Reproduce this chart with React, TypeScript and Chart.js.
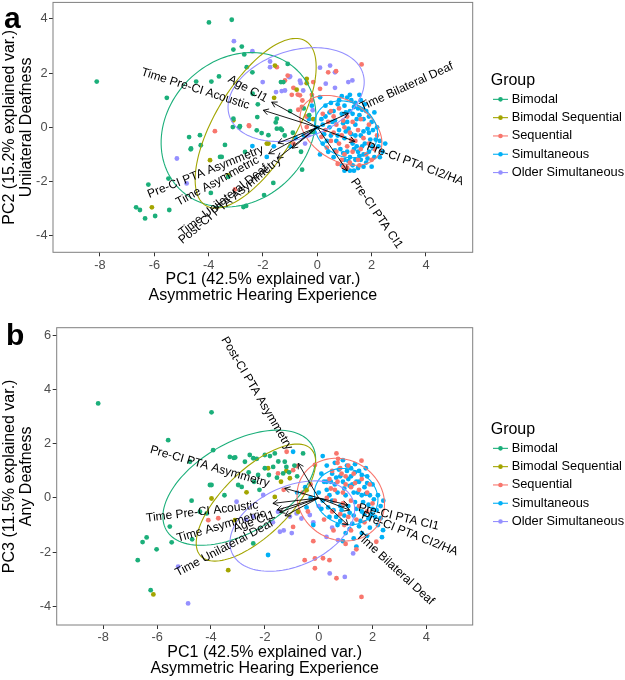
import React, { useEffect, useRef } from 'react';
import { Chart, registerables } from 'chart.js';

Chart.register(...registerables);

const FONT = '"Liberation Sans", Arial, Helvetica, sans-serif';

// ---------- shared ----------
const groups = ['Bimodal', 'Bimodal Sequential', 'Sequential', 'Simultaneous', 'Older Simultaneous'];
const groupColors = ['#1BAF7A', '#A3A500', '#F8766D', '#00B0F6', '#9590FF'];
const xTicks = [-8, -6, -4, -2, 0, 2, 4];
const xTitle = ['PC1 (42.5% explained var.)', 'Asymmetric Hearing Experience'];

// ---------- panel a : PC1 vs PC2 ----------
const yTicksA = [-4, -2, 0, 2, 4];
const yTitleA = ['PC2 (15.2% explained var.)', 'Unilateral Deafness'];

const bimodalA: [number, number][] = [
  [-8.12, 1.69], [-3.99, 3.87], [-3.15, 3.97], [-2.78, 2.98], [-3.09, 2.87], [-2.69, 2.69], [-1.09, 2.34],
  [-2.6, 2.22], [-2.39, 2.03], [-3.62, 1.88], [-3.9, 1.69], [-4.46, 1.69], [-5.54, 1.09], [-1.34, 1.67],
  [-1.25, 1.67], [-2.38, 1.24], [-2.19, 0.85], [-2.21, 0.38], [-3.09, 0.32], [-3.11, 0.01], [-2.87, -0.01],
  [-2.05, -0.21], [-1.8, -0.29], [-1.49, -0.05], [-1.49, 0.32], [-1.3, -0.1], [-4.72, -0.36], [-4.66, -0.81],
  [-4.32, -0.29], [-4.29, -0.66], [-6.22, -2.11], [-5.48, -1.89], [-6.67, -2.95], [-6.53, -3.05],
  [-6.34, -3.36], [-5.97, -3.27], [-5.45, -3.05], [-3.58, -1.09], [-3.92, -2.42], [-2.62, -2.9],
  [-2.72, -2.94], [-2.66, -0.91], [-1.96, -2.5], [-1.62, -2.05], [-0.56, -1.56], [-4.65, -0.78],
  [-3.52, -1.09], [-3.28, -1.83], [-2.85, 0.04], [-2.23, -0.11], [-1.53, 0.18], [-1.35, -0.05],
  [-0.9, -0.2], [-0.5, 0.7], [-0.3, 0.45], [-1.0, 0.6], [-3.4, -0.65], [-0.6, -0.9], [-0.21, -0.17],
  [-1.2, -0.3],
];
const bimodalSeqA: [number, number][] = [
  [-1.56, 2.28], [-0.76, 1.39], [-0.39, 1.63], [-1.59, 1.09], [-3.95, -1.21], [-6.09, -2.95], [-1.86, -0.6],
  [-3.09, 0.26], [-1.8, -0.6], [-3.28, -1.77], [-0.39, 1.79], [-0.15, 0.3],
];
const sequentialA: [number, number][] = [
  [-1.49, 2.22], [-1.19, 1.73], [-1.09, 1.91], [-0.15, 1.67], [0.4, 2.03], [-0.94, 1.2], [-0.72, 1.21],
  [-0.55, 0.99], [-2.51, 0.05], [-3.03, -2.29], [-3.77, -0.14], [-2.52, 0.07], [1.63, 2.32], [0.69, 2.07],
  [0.1, 1.42], [-0.88, 1.46], [-0.64, 1.18], [-0.21, 0.99], [-0.7, 0.65], [-0.39, 0.01], [-0.88, -0.6],
  [0.96, -1.46], [-0.57, 0.75], [-0.4, 0.4], [-0.2, 1.2],
  [0.5, 0.6], [0.8, 0.7], [1.1, 0.4], [0.4, 0.2], [0.7, 0.1], [1.0, 0.0], [1.3, 0.2], [0.6, -0.2],
  [0.9, -0.3], [1.2, -0.2], [1.5, -0.1], [0.5, -0.5], [0.8, -0.6], [1.1, -0.7], [1.4, -0.5], [1.7, -0.4],
  [0.7, -0.9], [1.0, -1.0], [1.3, -0.9], [1.6, -0.8], [1.9, -0.6], [0.9, -1.2], [1.2, -1.3], [1.5, -1.2],
  [1.8, -1.0], [2.1, -0.8], [0.3, -0.1], [0.2, 0.5], [1.6, 0.3], [1.9, 0.1], [2.2, -0.3], [1.1, -1.5],
  [0.6, 0.4], [0.95, 0.25], [1.25, -0.45], [0.35, -0.75], [1.55, -1.4], [2.0, -1.2], [0.15, -0.35],
  [0.75, -1.35],
];
const simultaneousA: [number, number][] = [
  [0.0, 0.0], [0.2, 0.1], [-0.1, -0.2], [0.3, 0.4], [0.5, 0.9], [0.8, 1.0], [1.1, 1.1], [1.4, 0.9],
  [1.6, 1.0], [1.5, 0.7], [1.8, 0.6], [1.2, 0.6], [0.9, 0.5], [0.6, 0.6], [0.3, 0.8], [1.0, 0.8],
  [1.3, 0.5], [1.7, 0.3], [2.0, 0.2], [2.2, 0.0], [1.9, -0.2], [2.3, -0.5], [2.4, -0.9], [2.1, -1.1],
  [1.8, -1.3], [1.5, -1.5], [1.2, -1.6], [0.9, -1.4], [0.6, -1.1], [0.4, -0.9], [0.2, -0.6], [0.5, -0.3],
  [0.8, -0.1], [1.1, 0.2], [1.4, 0.1], [1.6, -0.3], [1.3, -0.6], [1.0, -0.4], [0.7, -0.5], [1.5, -0.9],
  [1.2, -1.1], [1.7, -1.0], [2.0, -0.7], [1.9, -0.9], [1.4, -1.2], [1.1, -0.9], [0.85, -0.8], [1.6, -1.2],
  [1.3, -1.4], [1.0, -1.2], [1.45, -0.7], [1.75, -0.6], [1.25, -0.25], [1.55, 0.45], [1.35, 0.75],
  [1.65, 0.65], [0.45, 0.0], [0.65, 0.25], [0.95, 0.15], [2.15, -0.45], [1.85, -0.05], [0.25, -0.25],
  [-0.3, 0.3], [-0.5, -0.3], [-0.2, 0.8], [-1.86, -1.09], [-2.39, -0.69], [-0.8, -0.4], [-1.0, -0.7],
  [0.1, -1.0], [2.5, -0.6], [1.0, -1.6], [1.25, 1.0], [0.75, 0.85], [1.15, -0.05], [-1.6, -0.7],
  [0.1, 1.11], [1.35, -0.8], [1.65, -0.7], [1.95, -0.45], [2.25, -0.7], [1.55, -1.05], [1.85, -1.15],
  [1.15, -1.25], [0.95, -0.95], [1.7, -0.15], [2.05, -0.1], [1.45, 0.3], [1.75, 0.85], [1.05, 0.55],
  [0.55, 0.2], [0.35, -0.5], [0.75, -0.3], [1.05, -0.15], [1.4, -0.3], [2.3, -1.1], [2.0, -1.45],
  [1.7, -1.45], [1.35, -1.6], [0.65, -0.85], [0.15, 0.3], [0.45, 0.55], [1.9, 0.4], [2.1, 0.55],
  [1.2, 1.2], [0.9, 1.15], [1.55, 1.2],
];
const olderSimA: [number, number][] = [
  [-3.07, 3.18], [-2.39, 2.81], [-1.74, 2.43], [-1.74, 2.22], [-2.01, 1.67], [-1.52, 1.3], [-1.31, 1.34],
  [-1.03, 1.85], [-0.61, 1.63], [0.31, 1.61], [-0.52, 1.36], [-5.17, -1.15], [-4.81, -2.07], [0.47, 2.28],
  [0.65, 2.03], [0.65, 1.46], [1.14, 1.67], [1.29, 1.73], [-1.0, 1.88], [-0.64, 1.72], [-1.19, 1.36],
  [-0.33, -0.29], [-0.17, 0.63], [-0.45, -0.6], [0.1, 2.2],
];

const varNamesA = ['Age CI1', 'Time Pre-CI Acoustic', 'Time Bilateral Deaf', 'Pre-CI PTA CI2/HA', 'Pre-CI PTA CI1',
  'Pre-CI PTA Asymmetry', 'Time Asymmetric', 'Time Unilateral Deaf', 'Post-CI PTA Asymmetry'];
const varXA = [-1.68, -1.99, 1.14, 1.38, 1.1, -1.45, -1.79, -1.46, -0.92];
const varYA = [0.93, 0.63, 0.52, -0.52, -1.6, -0.58, -0.97, -1.14, -0.77];

// ellipse per group (order as groups): centre, semi-axes, rotation (deg)
const ellCxA = [-2.9, -2.27, 0.87, 1.06, -0.78];
const ellCyA = [-0.09, 0.15, -0.11, -0.07, 1.21];
const ellMajA = [3.08, 3.55, 1.65, 1.21, 2.58];
const ellMinA = [2.6, 1.47, 1.1, 0.99, 1.62];
const ellRotA = [45, 58.8, -33, -30, 17.7];

// ---------- panel b : PC1 vs PC3 ----------
const yTicksB = [-4, -2, 0, 2, 4, 6];
const yTitleB = ['PC3 (11.5% explained var.)', 'Any Deafness'];

const bimodalB: [number, number][] = [
  [-8.19, 3.5], [-3.98, 3.17], [-5.59, 2.14], [-3.92, 1.77], [-3.3, 1.52], [-3.15, 1.48], [-2.56, 1.59],
  [-2.3, 1.45], [-2.0, 1.59], [-1.81, 1.55], [-1.63, 1.65], [-1.5, 1.35], [-1.26, 1.34], [-0.58, 1.65],
  [-4.78, 1.34], [-4.04, 0.48], [-4.72, -0.1], [-4.41, -0.51], [-5.53, -1.06], [-5.46, -1.64],
  [-6.02, -1.9], [-6.39, -1.46], [-6.54, -1.63], [-6.72, -2.3], [-6.24, -3.41], [-4.7, -1.53],
  [-2.43, -1.68], [-4.16, -0.57], [-2.74, 1.34], [-2.43, 1.47], [-1.69, 1.15], [-2.0, 1.1], [-2.25, 0.85],
  [-2.99, 0.48], [-3.98, 0.48], [-2.86, 0.41], [-1.32, 0.91], [-1.1, 0.95], [-1.2, 1.15], [-2.6, 0.95],
  [-3.1, 1.5], [-1.85, 0.85], [-2.4, 0.6], [-1.55, 0.75], [-0.9, 1.2], [-0.8, 0.8], [-3.5, 0.1], [-2.2, 0.3],
];
const bimodalSeqB: [number, number][] = [
  [-3.98, -0.02], [-3.11, -0.82], [-3.36, -2.67], [-6.14, -3.57], [-1.88, 1.1], [-1.63, 0.04], [-2.68, 0.21],
  [-1.07, 0.73], [-0.45, 0.29], [-0.76, -0.51], [-1.2, 1.0], [-1.4, 0.6],
];
const sequentialB: [number, number][] = [
  [0.66, 1.65], [0.72, 1.45], [1.59, 1.38], [-0.14, 1.22], [1.59, -3.66], [0.66, -2.97], [-0.14, -2.6],
  [0.16, -2.23], [0.4, -2.3], [-0.52, -2.3], [2.14, -1.62], [-0.95, 1.03], [-1.19, 1.71], [-0.82, 1.18],
  [-0.95, -1.07], [-0.14, -2.24], [-4.1, -0.82], [-3.73, -0.75], [-1.51, 0.91], [-0.3, 0.5], [-0.6, 0.2],
  [-0.4, -0.5], [-1.3, 0.3], [-0.2, -1.6], [1.4, -1.9], [1.0, -1.7],
  [0.5, 1.0], [0.8, 1.1], [1.1, 1.2], [0.4, 0.7], [0.7, 0.6], [1.0, 0.8], [1.3, 0.9], [1.6, 0.7], [0.6, 0.3],
  [0.9, 0.2], [1.2, 0.4], [1.5, 0.3], [1.8, 0.2], [0.3, 0.0], [0.6, -0.1], [0.9, -0.2], [1.2, -0.1],
  [1.5, -0.3], [1.8, -0.5], [0.5, -0.5], [0.8, -0.6], [1.1, -0.7], [1.4, -0.8], [2.0, -0.2], [0.7, 1.3],
  [1.0, 0.5], [0.85, 0.9], [1.35, 0.55], [0.45, 0.35], [1.7, -0.9], [0.2, -0.8], [1.2, -1.2], [0.95, -1.0],
  [0.55, -1.2], [1.9, 0.5],
];
const simultaneousB: [number, number][] = [
  [0.3, 1.2], [0.6, 1.3], [0.9, 1.4], [1.2, 1.1], [1.5, 1.0], [1.8, 0.8], [2.0, 0.5], [2.2, 0.1], [2.3, -0.3],
  [2.1, -0.7], [1.9, -1.1], [1.6, -1.3], [1.3, -1.5], [1.0, -1.3], [0.7, -1.0], [0.4, -0.7], [0.1, -0.4],
  [0.0, 0.2], [0.2, 0.6], [0.5, 0.9], [0.8, 0.8], [1.1, 0.7], [1.4, 0.6], [1.7, 0.4], [1.9, 0.1], [2.0, -0.4],
  [1.7, -0.6], [1.4, -0.4], [1.1, -0.3], [0.8, -0.3], [0.5, -0.1], [0.3, 0.3], [0.6, 0.5], [0.9, 0.6],
  [1.2, 0.8], [1.5, 0.6], [1.3, 0.2], [1.0, 0.1], [0.7, 0.2], [1.6, 0.1], [1.85, -0.25], [1.55, -0.85],
  [1.25, -0.95], [0.95, -0.65], [0.65, -0.7], [0.35, -0.35], [1.05, 1.0], [1.35, 1.25], [0.75, 1.05],
  [1.65, -0.15], [1.15, 0.45], [0.45, 0.6], [2.4, -0.1], [2.2, -1.0], [1.75, 1.1], [-0.3, 0.0], [-0.5, 0.4],
  [-0.2, -1.0], [-0.8, 0.2], [0.1, 0.9], [1.4, -1.8], [1.8, -1.4], [2.35, -1.45], [1.3, -0.65], [0.9, -1.6],
  [0.15, 1.55], [-0.45, -0.35], [-1.88, -2.11], [-0.95, 1.71], [2.39, -1.19],
  [1.35, -0.15], [1.6, -0.5], [1.85, -0.75], [1.15, -0.55], [0.85, -0.45], [1.45, 0.2], [1.75, 0.15],
  [2.05, -0.05], [1.25, 0.5], [0.95, 0.35], [1.6, 0.85], [1.05, 1.2], [0.65, 0.75], [0.4, 0.1], [0.15, -0.1],
  [1.95, -0.6], [2.15, -0.45], [1.5, -1.05], [1.15, -1.15], [0.8, -0.85], [0.55, -0.45], [2.3, -0.75],
  [1.8, 0.55], [1.35, 0.95], [0.3, 0.6],
];
const olderSimB: [number, number][] = [
  [-5.22, -2.54], [-4.85, -3.9], [-3.05, -0.14], [-1.44, -1.25], [-1.3, -1.2], [-2.06, 0.11], [-2.43, -0.69],
  [-1.51, -0.51], [-0.82, -0.57], [-0.64, -0.76], [-0.33, -0.63], [0.29, -1.44], [-1.07, -0.69],
  [0.72, -1.56], [0.41, -2.79], [0.97, -2.92], [1.28, -2.05], [-1.7, -0.9], [-0.2, -0.9], [0.5, -1.1],
  [-1.0, -1.3], [-2.7, -0.8], [0.0, -0.3],
];

const varNamesB = ['Post-CI PTA Asymmetry', 'Pre-CI PTA Asymmetry', 'Time Pre-CI Acoustic', 'Time Asymmetric',
  'Age CI1', 'Time Unilateral Deaf', 'Pre-CI PTA CI1', 'Pre-CI PTA CI2/HA', 'Time Bilateral Deaf'];
const varXB = [-0.76, -1.26, -1.7, -1.54, -1.45, -1.25, 1.09, 1.15, 1.09];
const varYB = [1.28, 0.36, -0.2, -0.44, -0.53, -0.66, -0.26, -0.45, -1.0];

const ellCxB = [-2.95, -2.33, 0.82, 1.02, -0.98];
const ellCyB = [0.38, -0.17, -0.06, 0.05, -1.04];
const ellMajB = [3.13, 2.85, 1.67, 1.2, 2.45];
const ellMinB = [1.67, 1.22, 1.48, 1.02, 1.47];
const ellRotB = [30, 44, -30, -20, 24];

// ---------- helpers ----------
type PanelCfg = {
  letter: string;
  pts: [number, number][][];
  yTicks: number[];
  yTitle: string[];
  yMin: number; yMax: number;
  varNames: string[]; varX: number[]; varY: number[];
  ellCx: number[]; ellCy: number[]; ellMaj: number[]; ellMin: number[]; ellRot: number[];
  height: number; padTop: number; padBottom: number; yAxisW: number;
};

const panels: PanelCfg[] = [
  {
    letter: 'a', pts: [bimodalA, bimodalSeqA, sequentialA, simultaneousA, olderSimA],
    yTicks: yTicksA, yTitle: yTitleA, yMin: -4.61, yMax: 4.61,
    varNames: varNamesA, varX: varXA, varY: varYA,
    ellCx: ellCxA, ellCy: ellCyA, ellMaj: ellMajA, ellMin: ellMinA, ellRot: ellRotA,
    height: 320, padTop: 1.7, padBottom: 15.7, yAxisW: 53,
  },
  {
    letter: 'b', pts: [bimodalB, bimodalSeqB, sequentialB, simultaneousB, olderSimB],
    yTicks: yTicksB, yTitle: yTitleB, yMin: -4.7, yMax: 6.3,
    varNames: varNamesB, varX: varXB, varY: varYB,
    ellCx: ellCxB, ellCy: ellCyB, ellMaj: ellMajB, ellMin: ellMinB, ellRot: ellRotB,
    height: 360, padTop: 7.7, padBottom: 3, yAxisW: 56.7,
  },
];

function makeOverlay(cfg: PanelCfg) {
  return {
    id: 'biplotOverlay' + cfg.letter,
    afterDatasetsDraw(chart: any) {
      const ctx = chart.ctx;
      const xs = chart.scales.x;
      const ys = chart.scales.y;
      const ca = chart.chartArea;
      ctx.save();
      ctx.beginPath();
      ctx.rect(ca.left, ca.top, ca.right - ca.left, ca.bottom - ca.top);
      ctx.clip();
      // ellipses
      for (let g = 0; g < groups.length; g++) {
        const phi = (cfg.ellRot[g] * Math.PI) / 180;
        ctx.beginPath();
        for (let k = 0; k <= 120; k++) {
          const t = (2 * Math.PI * k) / 120;
          const ex = cfg.ellMaj[g] * Math.cos(t);
          const ey = cfg.ellMin[g] * Math.sin(t);
          const dx = cfg.ellCx[g] + ex * Math.cos(phi) - ey * Math.sin(phi);
          const dy = cfg.ellCy[g] + ex * Math.sin(phi) + ey * Math.cos(phi);
          const px = xs.getPixelForValue(dx);
          const py = ys.getPixelForValue(dy);
          if (k === 0) ctx.moveTo(px, py); else ctx.lineTo(px, py);
        }
        ctx.strokeStyle = groupColors[g];
        ctx.lineWidth = 1.1;
        ctx.stroke();
      }
      // arrows
      const ox = xs.getPixelForValue(0);
      const oy = ys.getPixelForValue(0);
      ctx.strokeStyle = '#000';
      ctx.lineWidth = 0.9;
      for (let i = 0; i < cfg.varNames.length; i++) {
        const tx = xs.getPixelForValue(cfg.varX[i]);
        const ty = ys.getPixelForValue(cfg.varY[i]);
        ctx.beginPath();
        ctx.moveTo(ox, oy);
        ctx.lineTo(tx, ty);
        ctx.stroke();
        const a = Math.atan2(ty - oy, tx - ox);
        const L = 6;
        ctx.beginPath();
        ctx.moveTo(tx - L * Math.cos(a - Math.PI / 6), ty - L * Math.sin(a - Math.PI / 6));
        ctx.lineTo(tx, ty);
        ctx.lineTo(tx - L * Math.cos(a + Math.PI / 6), ty - L * Math.sin(a + Math.PI / 6));
        ctx.stroke();
      }
      ctx.restore();
      // labels (not clipped)
      ctx.save();
      ctx.font = `12px ${FONT}`;
      ctx.fillStyle = '#000';
      ctx.textBaseline = 'middle';
      for (let i = 0; i < cfg.varNames.length; i++) {
        const tx = xs.getPixelForValue(cfg.varX[i]);
        const ty = ys.getPixelForValue(cfg.varY[i]);
        const rot = Math.atan((ty - oy) / (tx - ox));
        const w = ctx.measureText(cfg.varNames[i]).width;
        const gap = 0.13 * w;
        ctx.save();
        ctx.translate(tx, ty);
        ctx.rotate(rot);
        if (cfg.varX[i] < 0) {
          ctx.textAlign = 'right';
          ctx.fillText(cfg.varNames[i], -gap, 0);
        } else {
          ctx.textAlign = 'left';
          ctx.fillText(cfg.varNames[i], gap, 0);
        }
        ctx.restore();
      }
      ctx.restore();
    },
    afterDraw(chart: any) {
      const ctx = chart.ctx;
      const ca = chart.chartArea;
      ctx.save();
      // panel border
      ctx.strokeStyle = '#7f7f7f';
      ctx.lineWidth = 1;
      ctx.strokeRect(ca.left, ca.top, ca.right - ca.left, ca.bottom - ca.top);
      // legend
      const cy = (ca.top + ca.bottom) / 2;
      const lx = ca.right + 18;
      ctx.fillStyle = '#000';
      ctx.textBaseline = 'middle';
      ctx.textAlign = 'left';
      ctx.font = `16px ${FONT}`;
      ctx.fillText('Group', lx, cy - 47);
      ctx.font = `12.8px ${FONT}`;
      for (let g = 0; g < groups.length; g++) {
        const y = cy - 28 + g * 18.3;
        ctx.strokeStyle = groupColors[g];
        ctx.lineWidth = 1.1;
        ctx.beginPath();
        ctx.moveTo(lx + 2.3, y);
        ctx.lineTo(lx + 17.3, y);
        ctx.stroke();
        ctx.fillStyle = groupColors[g];
        ctx.beginPath();
        ctx.arc(lx + 9.8, y, 2.3, 0, Math.PI * 2);
        ctx.fill();
        ctx.fillStyle = '#000';
        ctx.fillText(groups[g], lx + 21, y);
      }
      // panel letter
      ctx.font = `bold 30px ${FONT}`;
      ctx.textBaseline = 'alphabetic';
      ctx.fillText(cfg.letter, cfg.letter === 'a' ? 4 : 6, cfg.letter === 'a' ? 28 : 25);
      ctx.restore();
    },
  };
}

function Panel({ cfg }: { cfg: PanelCfg }) {
  const ref = useRef<HTMLCanvasElement | null>(null);
  useEffect(() => {
    if (!ref.current) return;
    const datasets = groups.map((g, i) => ({
      label: g,
      data: cfg.pts[i].map(([x, y]) => ({ x, y })),
      backgroundColor: groupColors[i],
      borderColor: groupColors[i],
      borderWidth: 0,
      pointRadius: 2.4,
      pointHoverRadius: 2.4,
    }));
    const chart = new Chart(ref.current, {
      type: 'scatter',
      data: { datasets },
      options: {
        animation: false,
        responsive: false,
        events: [],
        layout: { padding: { top: cfg.padTop, bottom: cfg.padBottom, left: 0, right: 152.3 } },
        plugins: { legend: { display: false }, tooltip: { enabled: false } },
        scales: {
          x: {
            type: 'linear',
            min: -9.73,
            max: 5.72,
            afterBuildTicks: (s: any) => { s.ticks = xTicks.map((v) => ({ value: v })); },
            afterFit: (s: any) => {
              s.height = 52;
              s.paddingLeft = 0; s.paddingRight = 0; s.paddingTop = 0; s.paddingBottom = 0;
            },
            grid: { display: true, drawOnChartArea: false, drawTicks: true, tickLength: 4, color: '#333333' },
            border: { display: false },
            ticks: { color: '#4d4d4d', font: { family: FONT, size: 12.8 }, padding: 1, maxRotation: 0 },
            title: {
              display: true, text: xTitle, color: '#000',
              font: { family: FONT, size: 16, lineHeight: 1.03 }, padding: { top: 0, bottom: 0 },
            },
          },
          y: {
            type: 'linear',
            min: cfg.yMin,
            max: cfg.yMax,
            afterBuildTicks: (s: any) => { s.ticks = cfg.yTicks.map((v) => ({ value: v })); },
            afterFit: (s: any) => {
              s.width = cfg.yAxisW;
              s.paddingLeft = 0; s.paddingRight = 0; s.paddingTop = 0; s.paddingBottom = 0;
            },
            grid: { display: true, drawOnChartArea: false, drawTicks: true, tickLength: 4, color: '#333333' },
            border: { display: false },
            ticks: { color: '#4d4d4d', font: { family: FONT, size: 12.8 }, padding: 1.5 },
            title: {
              display: true, text: cfg.yTitle, color: '#000',
              font: { family: FONT, size: 16, lineHeight: 1.0625 }, padding: { top: 1.5, bottom: 0 },
            },
          },
        },
      },
      plugins: [makeOverlay(cfg)],
    } as any);
    return () => chart.destroy();
  }, [cfg]);
  return (
    <canvas
      ref={ref}
      width={625}
      height={cfg.height}
      style={{ display: 'block', width: 625, height: cfg.height }}
    />
  );
}

export default function App() {
  useEffect(() => {
    document.body.style.margin = '0';
    document.body.style.background = '#fff';
  }, []);
  return (
    <div style={{ width: 625, height: 680, background: '#fff', position: 'relative' }}>
      <Panel cfg={panels[0]} />
      <Panel cfg={panels[1]} />
    </div>
  );
}
